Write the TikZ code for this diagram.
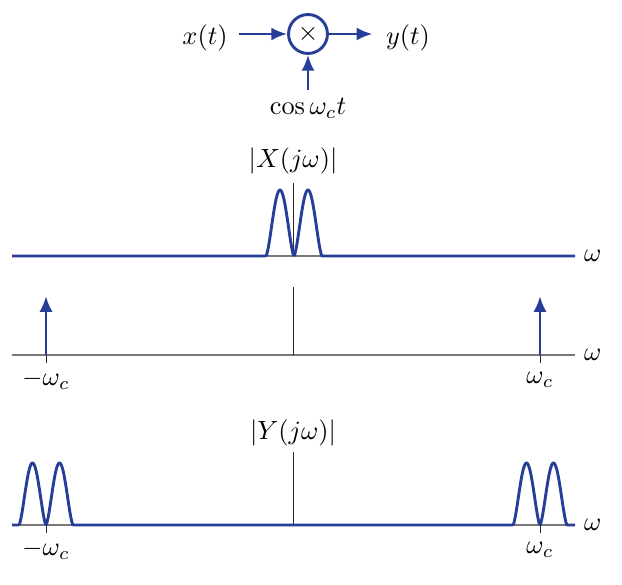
\documentclass[tikz,border=0pt]{standalone}
\usetikzlibrary{arrows.meta}
\definecolor{sigblue}{RGB}{38,62,152}
\definecolor{axgray}{RGB}{120,120,120}
\tikzset{
  arr/.style={draw=sigblue,line width=1.1pt,-{Latex[length=6pt,width=5pt]}},
  axisline/.style={draw=axgray,line width=0.6pt},
  sig/.style={draw=sigblue,line width=1.1pt,line join=round},
  vline/.style={draw=black!85,line width=0.35pt},
  lbl/.style={inner sep=1pt}
}
\begin{document}
\begin{tikzpicture}[x=0.38pt,y=-0.38pt]
\useasboundingbox (0,0) rectangle (622,585);
% modulator
\node[lbl] (xt) at (205,38) {$x(t)$};
\node[circle,draw=sigblue,line width=1.1pt,minimum size=14.8pt,inner sep=0pt] (mul) at (308,34) {$\times$};
\node[lbl] (yt) at (408,38) {$y(t)$};
\node[lbl] (cs) at (308,108) {$\cos\omega_c t$};
\draw[arr,shorten <=3pt] (xt.east |- mul.center) -- (mul.west);
\draw[arr,shorten >=4pt] (mul.east) -- (yt.west |- mul.center);
\draw[arr,shorten <=2pt] (cs.north) -- (mul.south);
% plot 1
\coordinate (a1l) at (12,256);
\coordinate (a1r) at (575,256);
\coordinate (o1) at (293,256);
\coordinate (t1) at (293,183);
\draw[axisline] (a1l) -- (a1r);
\draw[vline] (o1) -- (t1);
\node[lbl] (X) at (293,161) {$|X(j\omega)|$};
\node[lbl,anchor=west] (w1) at (581,256) {$\omega$};
\draw[sig] (12,256) -- (266,256)
  plot[domain=0:1,samples=51] ({266+28*\x},{256-66*(abs(sin(180*\x)))^1.5})
  plot[domain=0:1,samples=51] ({294+28*\x},{256-66*(abs(sin(180*\x)))^1.5})
  -- (575,256);
% plot 2
\coordinate (a2l) at (12,355);
\coordinate (a2r) at (575,355);
\coordinate (o2) at (293,355);
\coordinate (t2) at (293,287);
\coordinate (n2) at (46,355);
\coordinate (p2) at (540,355);
\coordinate (n2t) at (46,296);
\coordinate (p2t) at (540,296);
\coordinate (n2b) at (46,363);
\coordinate (p2b) at (540,363);
\draw[axisline] (a2l) -- (a2r);
\draw[vline] (o2) -- (t2);
\draw[vline] (n2) -- (n2b);
\draw[vline] (p2) -- (p2b);
\draw[arr] (n2) -- (n2t);
\draw[arr] (p2) -- (p2t);
\node[lbl,anchor=west] (w2) at (581,355) {$\omega$};
\node[lbl] (mwc2) at (46,380) {$-\omega_c$};
\node[lbl] (wc2) at (540,380) {$\omega_c$};
% plot 3
\coordinate (a3l) at (12,525);
\coordinate (a3r) at (575,525);
\coordinate (o3) at (293,525);
\coordinate (t3) at (293,452);
\coordinate (n3b) at (46,533);
\coordinate (p3b) at (540,533);
\coordinate (n3) at (46,525);
\coordinate (p3) at (540,525);
\draw[axisline] (a3l) -- (a3r);
\draw[vline] (o3) -- (t3);
\draw[vline] (n3) -- (n3b);
\draw[vline] (p3) -- (p3b);
\node[lbl] (Y) at (293,433) {$|Y(j\omega)|$};
\node[lbl,anchor=west] (w3) at (581,525) {$\omega$};
\node[lbl] (mwc3) at (46,550) {$-\omega_c$};
\node[lbl] (wc3) at (540,550) {$\omega_c$};
\draw[sig] (12,525) -- (19,525)
  plot[domain=0:1,samples=51] ({19+27*\x},{525-62*(abs(sin(180*\x)))^1.5})
  plot[domain=0:1,samples=51] ({46+27*\x},{525-62*(abs(sin(180*\x)))^1.5})
  -- (513,525)
  plot[domain=0:1,samples=51] ({513+27*\x},{525-62*(abs(sin(180*\x)))^1.5})
  plot[domain=0:1,samples=51] ({540+27*\x},{525-62*(abs(sin(180*\x)))^1.5})
  -- (575,525);
\end{tikzpicture}
\end{document}
